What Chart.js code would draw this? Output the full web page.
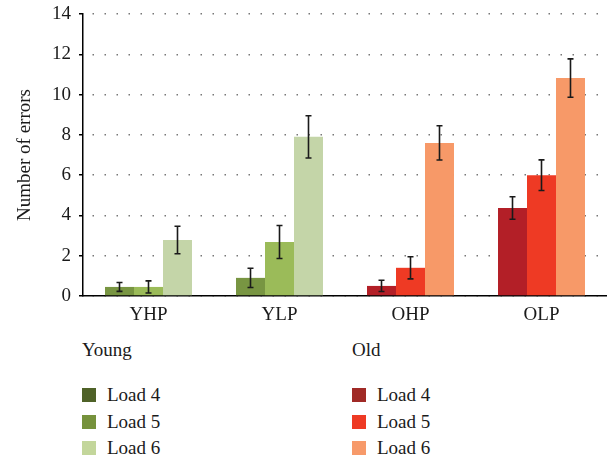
<!DOCTYPE html>
<html>
<head>
<meta charset="utf-8">
<script src="https://cdn.jsdelivr.net/npm/chart.js@4/dist/chart.umd.min.js"></script>
<style>
  body { margin: 0; background: #fff; font-family: "Liberation Serif", serif; color: #1a1a1a; }
  #wrap { position: relative; width: 607px; height: 458px; }
  #chart-box { position: absolute; left: 0; top: 0; width: 607px; height: 330px; }
  .legend { position: absolute; top: 338px; font-size: 19px; }
  .legend .head { height: 44px; line-height: 24px; }
  .legend .row { display: flex; align-items: center; height: 26.5px; }
  .legend .sw { width: 14px; height: 14px; margin-right: 11px; }
</style>
</head>
<body>
<div id="wrap">
  <div id="chart-box"><canvas id="chart"></canvas></div>
  <div class="legend" id="legend-young" style="left:82px"></div>
  <div class="legend" id="legend-old" style="left:352px"></div>
</div>
<script>
// ── Data ───────────────────────────────────────────
const categories = ['YHP', 'YLP', 'OHP', 'OLP'];
const loadLabels = ['Load 4', 'Load 5', 'Load 6'];

const load4 = [0.45, 0.9, 0.5, 4.37];
const load5 = [0.45, 2.68, 1.4, 6.0];
const load6 = [2.78, 7.9, 7.6, 10.82];

const load4Err = [0.22, 0.48, 0.28, 0.56];
const load5Err = [0.3, 0.82, 0.55, 0.76];
const load6Err = [0.68, 1.05, 0.85, 0.95];

const yTicks = [0, 2, 4, 6, 8, 10, 12, 14];

// ── Colours ────────────────────────────────────────
const youngBar = ['#789542', '#9bbb59', '#c4d5a8'];
const oldBar = ['#b31f27', '#ee3a24', '#f79968'];
const youngKey = ['#4f6228', '#76923c', '#c3d69b'];
const oldKey = ['#a02a26', '#ee3a24', '#f79a6a'];
const serif = "'Liberation Serif', 'DejaVu Serif', serif";

function barColors(k) {
  return categories.map(c => c[0] === 'Y' ? youngBar[k] : oldBar[k]);
}

// ── Error bars plugin ──────────────────────────────
const errorBars = {
  id: 'errorBars',
  afterDatasetsDraw(chart) {
    const { ctx, scales: { y } } = chart;
    ctx.save();
    ctx.strokeStyle = '#1a1a1a';
    ctx.lineWidth = 1.6;
    chart.data.datasets.forEach((ds, di) => {
      const meta = chart.getDatasetMeta(di);
      meta.data.forEach((bar, i) => {
        const v = ds.data[i], e = ds.errors[i];
        const top = y.getPixelForValue(v + e);
        const bot = y.getPixelForValue(v - e);
        const x = bar.x;
        ctx.beginPath();
        ctx.moveTo(x, top); ctx.lineTo(x, bot);
        ctx.moveTo(x - 3, top); ctx.lineTo(x + 3, top);
        ctx.moveTo(x - 3, bot); ctx.lineTo(x + 3, bot);
        ctx.stroke();
      });
    });
    ctx.restore();
  }
};

const series = [load4, load5, load6];
const errs = [load4Err, load5Err, load6Err];

new Chart(document.getElementById('chart'), {
  type: 'bar',
  data: {
    labels: categories,
    datasets: series.map((d, k) => ({
      label: loadLabels[k],
      data: d,
      errors: errs[k],
      backgroundColor: barColors(k),
      borderWidth: 0,
      categoryPercentage: 0.664,
      barPercentage: 1,
    })),
  },
  options: {
    responsive: true,
    maintainAspectRatio: false,
    animation: false,
    layout: { padding: { top: 14, right: 0, left: 0, bottom: 0 } },
    plugins: { legend: { display: false }, tooltip: { enabled: false } },
    scales: {
      x: {
        grid: { display: false },
        border: { color: '#000', width: 1.5 },
        ticks: { color: '#1a1a1a', font: { family: serif, size: 19 }, padding: 0 },
        afterFit: s => { s.height = 34; },
      },
      y: {
        min: 0,
        max: 14,
        afterBuildTicks: s => { s.ticks = yTicks.map(v => ({ value: v })); },
        grid: {
          color: '#777',
          lineWidth: 1.5,
          tickLength: 4,
          tickColor: '#000',
          tickWidth: 1.5,
          tickBorderDash: [1, 0],
        },
        border: { color: '#000', width: 1.5, dash: [1.5, 10.5], dashOffset: 3 },
        ticks: { color: '#1a1a1a', font: { family: serif, size: 19 }, padding: 8 },
        title: {
          display: true,
          text: 'Number of errors',
          color: '#1a1a1a',
          font: { family: serif, size: 19 },
          padding: { top: 14, bottom: 0 },
        },
        afterFit: s => { s.width = 83; s.paddingTop = 0; },
      },
    },
  },
  plugins: [errorBars],
});

// ── HTML legend ────────────────────────────────────
function renderLegend(id, title, colors) {
  document.getElementById(id).innerHTML =
    `<div class="head">${title}</div>` +
    loadLabels.map((l, k) =>
      `<div class="row"><div class="sw" style="background:${colors[k]}"></div>${l}</div>`
    ).join('');
}
renderLegend('legend-young', 'Young', youngKey);
renderLegend('legend-old', 'Old', oldKey);
</script>
</body>
</html>
